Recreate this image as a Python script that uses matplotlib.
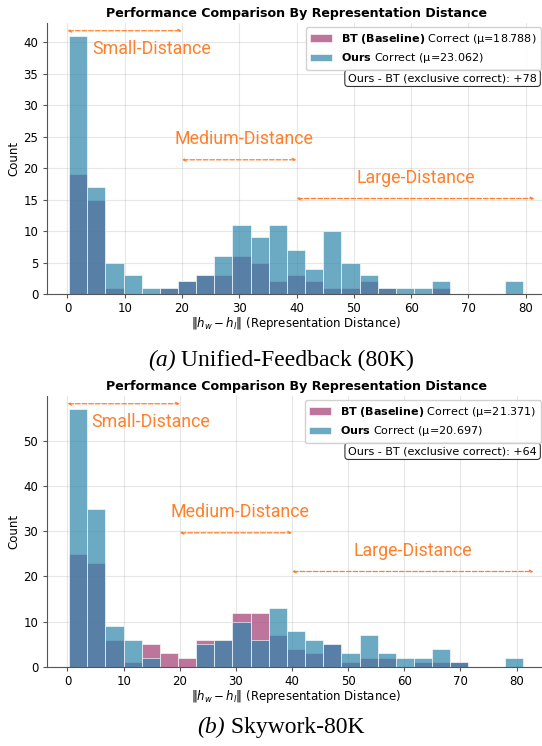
import numpy as np
import matplotlib
matplotlib.use("Agg")
import matplotlib.pyplot as plt

plt.rcParams['font.family'] = ['DejaVu Sans']

# histogram bin ranges (lowest / highest edge), 25 bins each
binRanges = [(0.3, 79.5), (0.3, 81.1)]
nBins = 25

# counts per bin, panel (a) Unified-Feedback
btCountsA = [19, 15, 1, 0, 0, 1, 2, 3, 3, 6, 5, 2, 3, 2, 1, 1, 2, 1, 0, 0, 1, 0, 0, 0, 0]
oursCountsA = [41, 17, 5, 3, 1, 1, 2, 3, 6, 11, 9, 11, 7, 4, 10, 5, 3, 1, 1, 1, 2, 0, 0, 0, 2]
# counts per bin, panel (b) Skywork
btCountsB = [25, 23, 6, 1, 5, 3, 2, 6, 6, 12, 12, 7, 4, 3, 5, 1, 2, 2, 0, 1, 1, 1, 0, 0, 0]
oursCountsB = [57, 35, 9, 6, 2, 0, 0, 5, 6, 10, 6, 13, 8, 6, 5, 3, 7, 3, 2, 2, 4, 1, 0, 0, 2]

btMeans = [18.788, 21.371]
oursMeans = [23.062, 20.697]
exclusive = [78, 64]
largeEnd = [81.5, 83.0]
captionTags = ['(a)', '(b)']
captionNames = [' Unified-Feedback (80K)', ' Skywork-80K']

btColor = '#A23B72'
oursColor = '#2E86AB'
orange = '#FF7F2A'

fig = plt.figure(figsize=(5.42, 7.46), dpi=100)
axPositions = [[46.5/542, 452/746, 499/542, 271/746],
               [46.5/542, 79/746, 499/542, 271/746]]
captionY = [380/746, 13/746]

panels = [(btCountsA, oursCountsA), (btCountsB, oursCountsB)]
renderer = fig.canvas.get_renderer()

for i, (btCounts, oursCounts) in enumerate(panels):
    ax = fig.add_axes(axPositions[i])
    edges = np.linspace(binRanges[i][0], binRanges[i][1], nBins + 1)
    widths = np.diff(edges)
    bt = ax.bar(edges[:-1], btCounts, width=widths, align='edge', color=btColor,
                alpha=0.7, edgecolor='white', linewidth=0.6)
    ours = ax.bar(edges[:-1], oursCounts, width=widths, align='edge', color=oursColor,
                  alpha=0.7, edgecolor='white', linewidth=0.6)
    ax.set_xlim(edges[0] - 0.05*(edges[-1]-edges[0]), edges[-1] + 0.05*(edges[-1]-edges[0]))
    top = max(oursCounts)
    ax.set_ylim(0, top * 1.05)
    ax.grid(True, alpha=0.3)
    ax.set_axisbelow(True)
    ax.spines['top'].set_visible(False)
    ax.spines['right'].set_visible(False)
    for s in ['left', 'bottom']:
        ax.spines[s].set_color('#555555')
    ax.tick_params(labelsize=8.5, length=3, pad=3, color='#555555')
    ax.set_xticks(range(0, 81, 10))
    ax.set_xlabel(r'$\|h_w - h_l\|$ (Representation Distance)', fontsize=8.5, labelpad=0)
    ax.set_ylabel('Count', fontsize=8.5, labelpad=2)
    ax.set_title('Performance Comparison By Representation Distance', fontsize=9.1,
                 fontweight='bold', pad=4)

    ax.legend([bt, ours],
              [r'$\mathbf{BT\ (Baseline)}$ Correct (μ=%.3f)' % btMeans[i],
               r'$\mathbf{Ours}$ Correct (μ=%.3f)' % oursMeans[i]],
              loc='upper right', fontsize=8, framealpha=0.9, borderaxespad=0.4)
    ax.text(0.983, 0.815, 'Ours - BT (exclusive correct): +%d' % exclusive[i],
            transform=ax.transAxes, ha='right', va='top', fontsize=8,
            bbox=dict(boxstyle='round,pad=0.3', facecolor='white', edgecolor='#333333', lw=0.8))

    arrowStyle = dict(arrowstyle='<->', color=orange, linestyle='--', lw=0.9,
                      shrinkA=0, shrinkB=0, mutation_scale=5)
    ax.annotate('', xy=(20, top*1.02), xytext=(0, top*1.02), arrowprops=arrowStyle)
    ax.annotate('', xy=(40, top*0.52), xytext=(20, top*0.52), arrowprops=arrowStyle)
    ax.annotate('', xy=(largeEnd[i], top*0.37), xytext=(40, top*0.37), arrowprops=arrowStyle)
    ax.text(4.3, top*0.95, 'Small-Distance', color=orange, fontsize=12.8,
            family='Roboto', ha='left', va='center')
    ax.text(30.8, top*0.6, 'Medium-Distance', color=orange, fontsize=12.8,
            family='Roboto', ha='center', va='center')
    ax.text((40 + largeEnd[i])/2, top*0.45, 'Large-Distance', color=orange, fontsize=12.8,
            family='Roboto', ha='center', va='center')

    # caption: italic tag + regular name, centred together
    tag = fig.text(0, captionY[i], captionTags[i], ha='left', va='baseline',
                   fontsize=17, family='Liberation Serif', style='italic')
    name = fig.text(0, captionY[i], captionNames[i], ha='left', va='baseline',
                    fontsize=17, family='Liberation Serif')
    wTag = tag.get_window_extent(renderer).width / fig.bbox.width
    wName = name.get_window_extent(renderer).width / fig.bbox.width
    x0 = 281/542 - (wTag + wName) / 2
    tag.set_x(x0)
    name.set_x(x0 + wTag)

fig.savefig('out.png', dpi=100)
